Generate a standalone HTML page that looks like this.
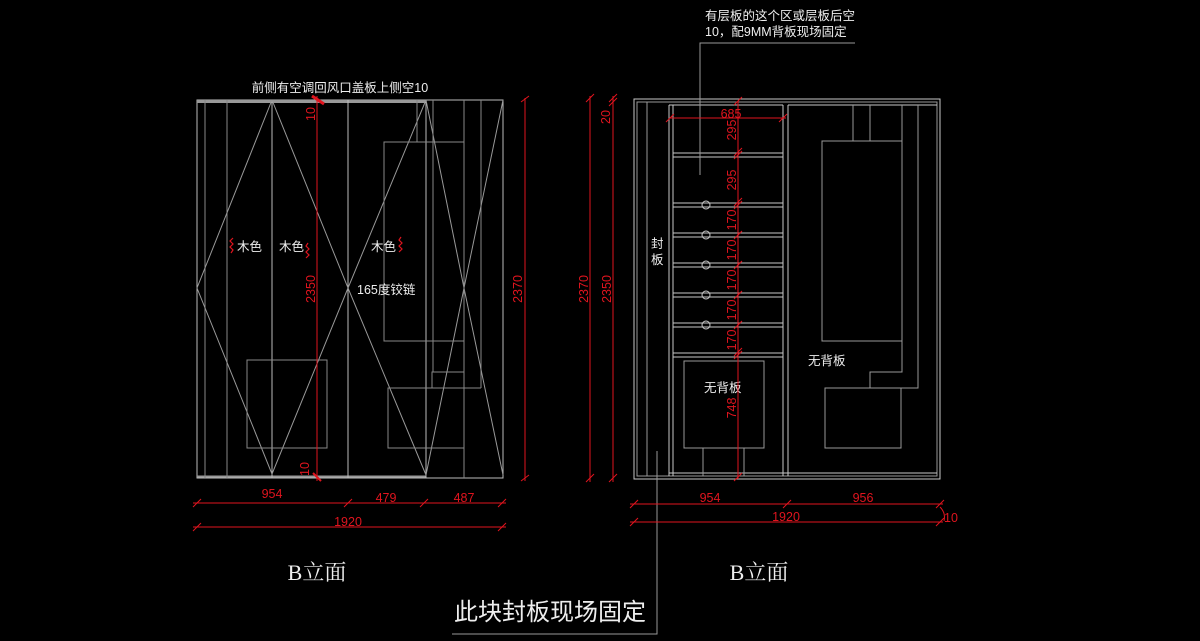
<!DOCTYPE html>
<html><head><meta charset="utf-8"><style>
html,body{margin:0;padding:0;background:#000;width:1200px;height:641px;overflow:hidden}
svg{display:block}
text{font-family:"Liberation Sans","Noto Sans CJK SC",sans-serif}
text.serif{font-family:"Liberation Serif","Noto Serif CJK SC",serif}
</style></head><body>
<svg width="1200" height="641" viewBox="0 0 1200 641" xmlns="http://www.w3.org/2000/svg">
<rect width="1200" height="641" fill="#000"/>
<!-- LEFT ELEVATION -->
<g stroke="#bdbdbd" stroke-width="1" fill="none">
<rect x="197" y="100" width="306" height="378"/>
<line x1="197" y1="101.5" x2="426" y2="101.5" stroke="#999" stroke-width="3"/>
<line x1="197" y1="476.5" x2="426" y2="476.5" stroke="#999" stroke-width="2"/>
<line x1="205" y1="100" x2="205" y2="478" stroke="#888"/>
<line x1="227" y1="100" x2="227" y2="478" stroke="#888"/>
<line x1="272" y1="100" x2="272" y2="478"/>
<line x1="348" y1="100" x2="348" y2="478"/>
<line x1="426" y1="100" x2="426" y2="478"/>
<line x1="464" y1="100" x2="464" y2="478" stroke="#888"/>
<line x1="481" y1="100" x2="481" y2="388" stroke="#888"/>
<polyline points="272,100 348,288 272,474 197,288 272,100" stroke="#999"/>
<polyline points="426,100 464,288 426,475 348,288 426,100" stroke="#999"/>
<polyline points="503,100 464,288 503,475" stroke="#999"/>
<g stroke="#888">
<line x1="417" y1="100" x2="417" y2="142"/>
<line x1="433" y1="100" x2="433" y2="372"/>
<rect x="384" y="142" width="80" height="199"/>
<polyline points="464,341 464,372 432,372 432,388"/>
<line x1="388" y1="388" x2="481" y2="388"/>
<rect x="388" y="388" width="76" height="60"/>
<rect x="247" y="360" width="80" height="88"/>
</g>
</g>
<text x="340" y="92" fill="#eee" font-size="12.5" text-anchor="middle">前侧有空调回风口盖板上侧空10</text>
<g fill="#eee" font-size="12.5">
<text x="237" y="251">木色</text>
<text x="279" y="251">木色</text>
<text x="371" y="251">木色</text>
<text x="357" y="294">165度铰链</text>
</g>
<g stroke="#e0141e" fill="none" stroke-width="1.2">
<path d="M233,238 l-3,3 l3,3 l-3,3 l3,3 l-2,3"/>
<path d="M308,243 l-2,3 l3,3 l-3,3 l3,3 l-3,3"/>
<path d="M401,237 l-2,3 l3,3 l-3,3 l3,3 l-3,3"/>
</g>
<!-- left dims -->
<g stroke="#e0141e" stroke-width="1" fill="none">
<line x1="317" y1="96" x2="317" y2="481"/>
<line x1="312" y1="96" x2="324" y2="104" stroke-width="3"/>
<line x1="313" y1="473" x2="321" y2="481" stroke-width="2"/>
<line x1="525" y1="98" x2="525" y2="481"/>
<line x1="521" y1="102" x2="529" y2="96"/>
<line x1="521" y1="481" x2="529" y2="475"/>
<line x1="193" y1="503" x2="506" y2="503"/>
<line x1="193" y1="527" x2="506" y2="527"/>
<path d="M193,507 l8,-8 M344,507 l8,-8 M420,507 l8,-8 M498,507 l8,-8 M193,531 l8,-8 M498,531 l8,-8"/>
</g>
<g fill="#e0141e" font-size="12.5" text-anchor="middle">
<text x="272" y="498">954</text>
<text x="386" y="502">479</text>
<text x="464" y="502">487</text>
<text x="348" y="526">1920</text>
<text transform="translate(315,114) rotate(-90)">10</text>
<text transform="translate(315,289) rotate(-90)">2350</text>
<text transform="translate(309,469) rotate(-90)">10</text>
<text transform="translate(522,289) rotate(-90)">2370</text>
</g>
<text class="serif" x="317" y="580" fill="#eee" font-size="22" text-anchor="middle" style="font-family:'Liberation Serif','Noto Serif CJK SC',serif">B立面</text>

<!-- RIGHT ELEVATION -->
<g stroke="#c8c8c8" stroke-width="1" fill="none">
<rect x="634" y="99" width="306" height="380"/>
<rect x="637" y="102" width="300" height="374" stroke="#999"/>
<line x1="647" y1="102" x2="647" y2="476" stroke="#999"/>
<line x1="669" y1="105" x2="669" y2="476"/>
<line x1="673" y1="105" x2="673" y2="476"/>
<line x1="783" y1="105" x2="783" y2="476"/>
<line x1="788" y1="105" x2="788" y2="476"/>
<line x1="669" y1="105" x2="783" y2="105"/>
<line x1="788" y1="105" x2="937" y2="105"/>
<line x1="669" y1="473" x2="937" y2="473"/>
<g>
<line x1="673" y1="153" x2="783" y2="153"/><line x1="673" y1="157" x2="783" y2="157"/>
<line x1="673" y1="203" x2="783" y2="203"/><line x1="673" y1="207" x2="783" y2="207"/>
<line x1="673" y1="233" x2="783" y2="233"/><line x1="673" y1="237" x2="783" y2="237"/>
<line x1="673" y1="263" x2="783" y2="263"/><line x1="673" y1="267" x2="783" y2="267"/>
<line x1="673" y1="293" x2="783" y2="293"/><line x1="673" y1="297" x2="783" y2="297"/>
<line x1="673" y1="323" x2="783" y2="323"/><line x1="673" y1="327" x2="783" y2="327"/>
<line x1="673" y1="353" x2="783" y2="353"/><line x1="673" y1="357" x2="783" y2="357"/>
</g>
<circle cx="706" cy="205" r="4"/><circle cx="706" cy="235" r="4"/><circle cx="706" cy="265" r="4"/><circle cx="706" cy="295" r="4"/><circle cx="706" cy="325" r="4"/>
<g stroke="#999">
<rect x="684" y="361" width="80" height="87"/>
<line x1="703" y1="448" x2="703" y2="476"/>
<line x1="744" y1="448" x2="744" y2="476"/>
<rect x="822" y="141" width="80" height="200"/>
<line x1="853" y1="105" x2="853" y2="141"/>
<line x1="870" y1="105" x2="870" y2="141"/>
<polyline points="902,105 902,372 870,372 870,388"/>
<polyline points="918,105 918,388 825,388"/>
<rect x="825" y="388" width="76" height="60"/>
</g>
</g>
<g stroke="#999" fill="none">
<polyline points="700,175 700,43 855,43"/>
<polyline points="657,451 657,634 452,634"/>
</g>
<g fill="#eee" font-size="12.5">
<text x="705" y="20">有层板的这个区或层板后空</text>
<text x="705" y="36">10，配9MM背板现场固定</text>
<text x="651" y="248">封</text>
<text x="651" y="264">板</text>
<text x="704" y="392">无背板</text>
<text x="808" y="365">无背板</text>
</g>
<text x="454" y="620" fill="#eee" font-size="24">此块封板现场固定</text>
<text class="serif" x="759" y="580" fill="#eee" font-size="22" text-anchor="middle" style="font-family:'Liberation Serif','Noto Serif CJK SC',serif">B立面</text>
<!-- right dims -->
<g stroke="#e0141e" stroke-width="1" fill="none">
<line x1="590" y1="96" x2="590" y2="482"/>
<line x1="613" y1="96" x2="613" y2="482"/>
<line x1="738" y1="101" x2="738" y2="479"/>
<line x1="670" y1="118" x2="786" y2="118"/>
<path d="M586,102 l8,-8 M586,482 l8,-8 M609,102 l8,-8 M609,106 l8,-8 M609,482 l8,-8"/>
<path d="M734,105 l8,-8 M666,122 l8,-8 M779,122 l8,-8"/>
<path d="M734,159 l8,-8 M734,156 l8,-8 M734,209 l8,-8 M734,206 l8,-8 M734,239 l8,-8 M734,269 l8,-8 M734,299 l8,-8 M734,329 l8,-8 M734,359 l8,-8 M734,356 l8,-8 M734,481 l8,-8"/>
<line x1="630" y1="504" x2="943" y2="504"/>
<line x1="630" y1="522" x2="943" y2="522"/>
<path d="M630,508 l8,-8 M783,508 l8,-8 M936,508 l8,-8 M630,526 l8,-8 M936,526 l8,-8 M940,507 q6,6 4,14"/>
</g>
<g fill="#e0141e" font-size="12.5" text-anchor="middle">
<text x="731" y="118">685</text>
<text x="710" y="502">954</text>
<text x="863" y="502">956</text>
<text x="786" y="521">1920</text>
<text x="951" y="522">10</text>
<text transform="translate(588,289) rotate(-90)">2370</text>
<text transform="translate(611,289) rotate(-90)">2350</text>
<text transform="translate(610,117) rotate(-90)">20</text>
<text transform="translate(736,130) rotate(-90)">295</text>
<text transform="translate(736,180) rotate(-90)">295</text>
<text transform="translate(736,220) rotate(-90)">170</text>
<text transform="translate(736,250) rotate(-90)">170</text>
<text transform="translate(736,280) rotate(-90)">170</text>
<text transform="translate(736,310) rotate(-90)">170</text>
<text transform="translate(736,340) rotate(-90)">170</text>
<text transform="translate(736,408) rotate(-90)">748</text>
</g>
</svg>
</body></html>
